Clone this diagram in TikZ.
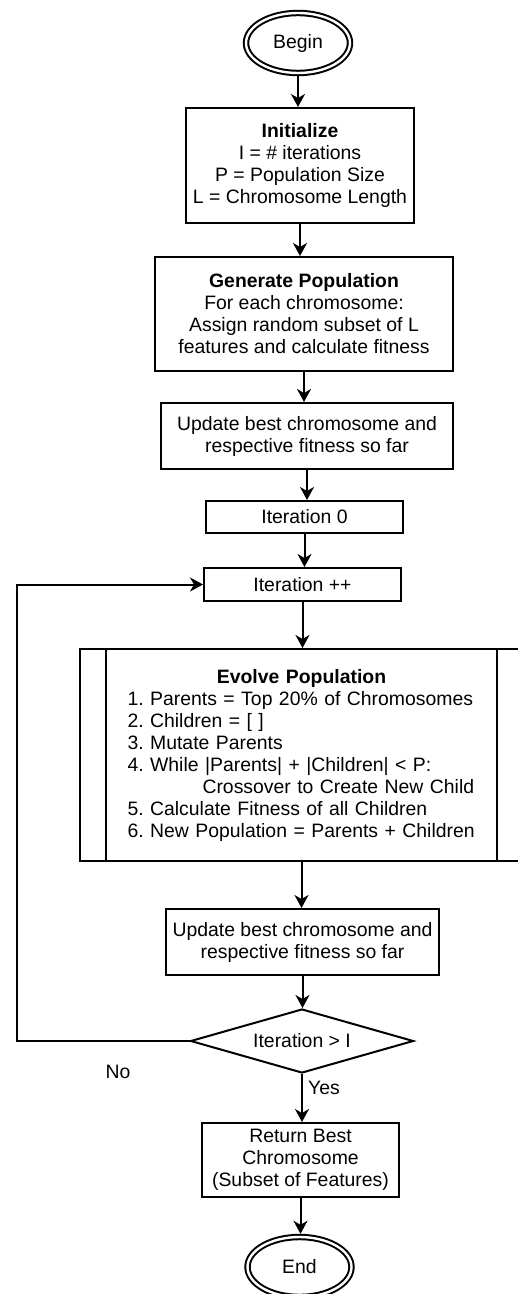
\documentclass[tikz,border=0pt]{standalone}
\usepackage{fontspec}
\setmainfont{Liberation Sans}
\usetikzlibrary{shapes.geometric,arrows.meta}
\frenchspacing

\begin{document}
\begin{tikzpicture}[x=0.5pt,y=-0.5pt,
    font=\fontsize{9.7}{11}\selectfont,
    box/.style={draw,line width=1pt,inner sep=0pt,align=center},
    term/.style={ellipse,draw,line width=1pt,double,double distance=1.2pt,
      inner sep=0pt,outer sep=1.6pt,minimum width=52pt,minimum height=30pt},
    cond/.style={diamond,draw,line width=1pt,aspect=3.5,inner sep=0pt,
      minimum width=111.5pt,minimum height=32pt},
    flow/.style={line width=1pt,-{Stealth[length=6.5pt,width=7pt,inset=2pt]}}]
    \useasboundingbox (0,0) rectangle (518,1294);
    \node [term] (S0) at (298,43) {Begin};
    \node [box,minimum width=114pt,minimum height=57.5pt] (S1) at (300,165.5)
      {\textbf{Initialize}\\I = \# iterations\\P = Population Size\\L = Chromosome Length};
    \node [box,minimum width=149pt,minimum height=57pt] (S2) at (304,314)
      {\textbf{Generate Population}\\For each chromosome:\\Assign random subset of L\\features and calculate fitness};
    \node [box,minimum width=146pt,minimum height=33pt] (S3) at (307,436)
      {Update best chromosome and\\respective fitness so far};
    \node [box,minimum width=98.5pt,minimum height=16pt] (S4) at (304.5,517) {Iteration 0};
    \node [box,minimum width=98.5pt,minimum height=16.5pt] (S5) at (302.5,584.5) {Iteration ++};
    \node [box,minimum width=221.5pt,minimum height=106pt,text width=174pt,align=left] (S6) at (301.5,755)
      {\makebox[174pt]{\textbf{Evolve Population}}\\
       1. Parents = Top 20\% of Chromosomes\\
       2. Children = [ ]\\
       3. Mutate Parents\\
       4. While |Parents| + |Children| < P:\\
       \hspace*{37.5pt}Crossover to Create New Child\\
       5. Calculate Fitness of all Children\\
       6. New Population = Parents + Children};
    \node [box,minimum width=136.5pt,minimum height=33pt] (S7) at (302.5,942)
      {Update best chromosome and\\respective fitness so far};
    \node [cond] (S8) at (302,1041) {Iteration > I};
    \node [box,minimum width=98.5pt,minimum height=37pt] (S9) at (300.5,1160)
      {Return Best\\Chromosome\\(Subset of Features)};
    \node [term] (S10) at (299.5,1267) {End};
    \coordinate (C0) at (17,1041);
      \draw [line width=1pt] ([xshift=13.5pt]S6.north west) -- ([xshift=13.5pt]S6.south west);
      \draw [line width=1pt] ([xshift=-13.5pt]S6.north east) -- ([xshift=-13.5pt]S6.south east);
      \draw [flow] (S0.south) -- (S0.south |- S1.north);
      \draw [flow] (S1.south) -- (S1.south |- S2.north);
      \draw [flow] (S2.south) -- (S2.south |- S3.north);
      \draw [flow] (S3.south) -- (S3.south |- S4.north);
      \draw [flow] (S4.south) -- (S4.south |- S5.north);
      \draw [flow] (S5.south) -- (S5.south |- S6.north);
      \draw [flow] (S6.south) -- (S6.south |- S7.north);
      \draw [flow] (S7.south) -- (S7.south |- S8.north);
      \draw [flow] (S8.south) -- (S8.south |- S9.north);
      \draw [flow] (S9.south) -- (S9.south |- S10.north);
      \draw [flow] (S8.west) -- (C0) |- (S5.west);
      \node (L0) at (118,1072) {No};
      \node (L1) at (324,1088) {Yes};
  \end{tikzpicture}
\end{document}
